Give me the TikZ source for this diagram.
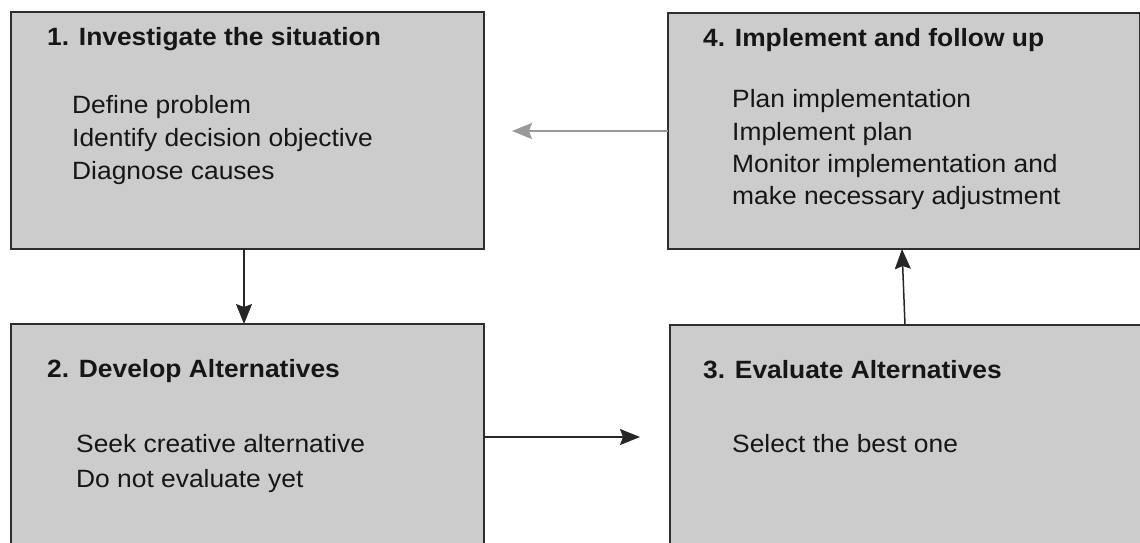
\documentclass[tikz,border=0pt]{standalone}
\usepackage{fontspec}
\setmainfont{Liberation Sans}[FakeStretch=1.055]
\usetikzlibrary{arrows.meta,calc}
\definecolor{boxfill}{HTML}{CCCCCC}
\definecolor{boxline}{HTML}{2E2E2E}
\definecolor{textdark}{HTML}{161616}
\definecolor{linkgray}{HTML}{999999}
\begin{document}
\begin{tikzpicture}[x=1pt,y=-1pt,
  stagebox/.style={draw=boxline,fill=boxfill,line width=1.6pt,rectangle,
    anchor=north west,inner sep=0pt,outer sep=0pt},
  stagetitle/.style={anchor=base west,inner sep=0pt,text=textdark,
    font=\fontsize{25}{30}\selectfont\bfseries},
  stageitem/.style={anchor=base west,inner sep=0pt,text=textdark,
    font=\fontsize{25}{30}\selectfont},
  link/.style={line width=1.5pt,draw=black!85,
    -{Stealth[length=20pt,width=16pt,inset=3pt]}},
  backlink/.style={line width=1.5pt,draw=linkgray,
    -{Stealth[length=20pt,width=16pt,inset=3pt]}}]
  \useasboundingbox (0,0) rectangle (1140,542);
  \clip (0,0) rectangle (1140,542);

  % the four stage boxes
  \node[stagebox,minimum width=473pt,minimum height=237pt] (b1) at (11,12) {};
  \node[stagebox,minimum width=472pt,minimum height=236pt] (b4) at (668,13) {};
  \node[stagebox,minimum width=473pt,minimum height=240pt] (b2) at (11,324) {};
  \node[stagebox,minimum width=472pt,minimum height=240pt] (b3) at (670,325) {};

  % stage 1
  \node[stagetitle] (t1) at (47,45) {1. Investigate the situation};
  \node[stageitem] (i11) at (72,113) {Define problem};
  \node[stageitem] (i12) at (72,146) {Identify decision objective};
  \node[stageitem] (i13) at (72,179) {Diagnose causes};

  % stage 4
  \node[stagetitle] (t4) at (703,46) {4. Implement and follow up};
  \node[stageitem] (i41) at (732,107) {Plan implementation};
  \node[stageitem] (i42) at (732,140) {Implement plan};
  \node[stageitem] (i43) at (732,172) {Monitor implementation and};
  \node[stageitem] (i44) at (732,204) {make necessary adjustment};

  % stage 2
  \node[stagetitle] (t2) at (47,377) {2. Develop Alternatives};
  \node[stageitem] (i21) at (76,452) {Seek creative alternative};
  \node[stageitem] (i22) at (76,487) {Do not evaluate yet};

  % stage 3
  \node[stagetitle] (t3) at (703,378) {3. Evaluate Alternatives};
  \node[stageitem] (i31) at (732,452) {Select the best one};

  % connectors
  \coordinate (backend) at (512,131);
  \coordinate (fwdend) at (640,437);
  \draw[backlink] (b4.west) -- (backend);
  \draw[link] ($(b1.south west)+(233,0)$) -- ($(b2.north west)+(233,0)$);
  \draw[link] ($(b2.north east)+(0,113)$) -- (fwdend);
  \draw[link] ($(b3.north west)+(235,0)$) -- ($(b4.south west)+(234,0)$);
\end{tikzpicture}
\end{document}
